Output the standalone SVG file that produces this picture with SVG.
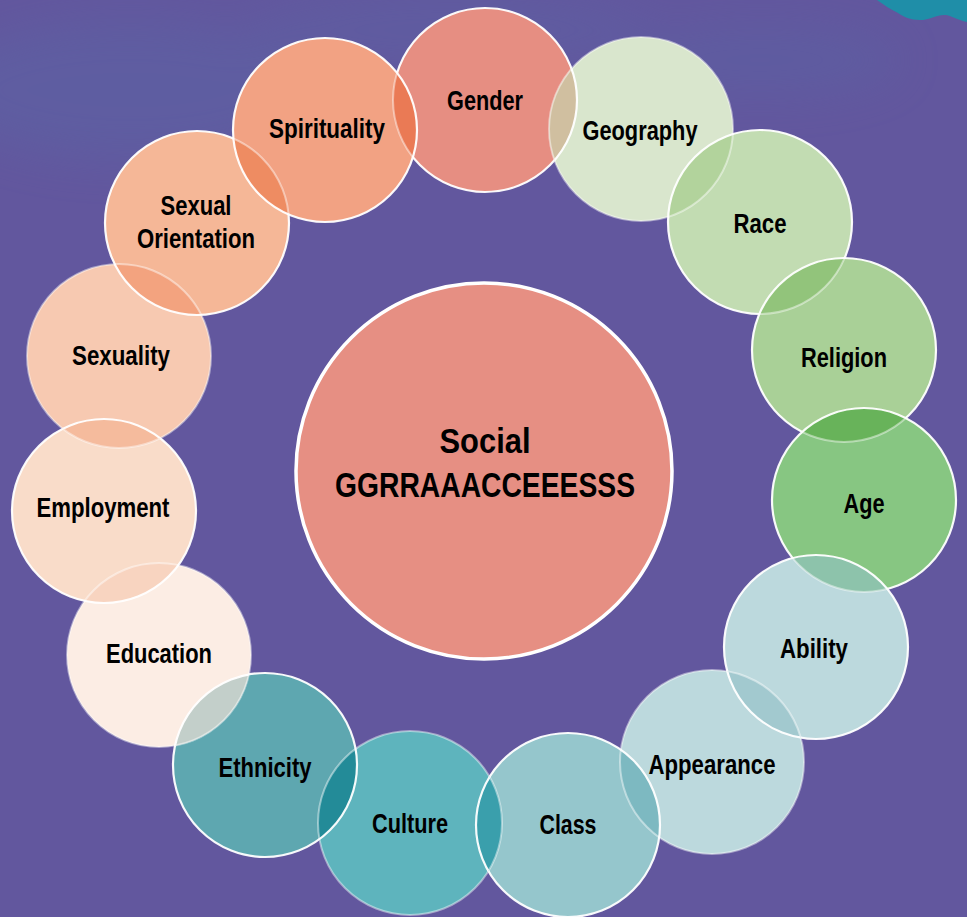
<svg xmlns="http://www.w3.org/2000/svg" width="967" height="917" viewBox="0 0 967 917">
<style>
.ring{fill:none;stroke:#ffffff;stroke-width:2.2;stroke-opacity:0.95}
.ghost{fill:none;stroke:#ffffff;stroke-width:2;stroke-opacity:0.45}
.lbl{font-family:"Liberation Sans",Arial,sans-serif;font-weight:bold;font-size:27px;fill:#000000;text-anchor:middle}
.big{font-size:35px}
</style>
<defs>
<filter id="blur" x="-50%" y="-50%" width="200%" height="200%"><feGaussianBlur stdDeviation="22"/></filter>
<clipPath id="kGender"><circle cx="485" cy="100" r="92"/></clipPath>
<clipPath id="kGeography"><circle cx="641" cy="129" r="92"/></clipPath>
<clipPath id="kRace"><circle cx="760" cy="222" r="92"/></clipPath>
<clipPath id="kReligion"><circle cx="844" cy="350" r="92"/></clipPath>
<clipPath id="kAge"><circle cx="864" cy="500" r="92"/></clipPath>
<clipPath id="kAbility"><circle cx="816" cy="647" r="92"/></clipPath>
<clipPath id="kAppearance"><circle cx="712" cy="762" r="92"/></clipPath>
<clipPath id="kClass"><circle cx="568" cy="825" r="92"/></clipPath>
<clipPath id="kCulture"><circle cx="410" cy="823" r="92"/></clipPath>
<clipPath id="kEthnicity"><circle cx="265" cy="765" r="92"/></clipPath>
<clipPath id="kEducation"><circle cx="159" cy="655" r="92"/></clipPath>
<clipPath id="kEmployment"><circle cx="104" cy="511" r="92"/></clipPath>
<clipPath id="kSexuality"><circle cx="119" cy="356" r="92"/></clipPath>
<clipPath id="kSexOr"><circle cx="197" cy="223" r="92"/></clipPath>
<clipPath id="kSpirituality"><circle cx="325" cy="130" r="92"/></clipPath>
</defs>

<g id="background">
<rect x="0" y="0" width="967" height="917" fill="#62579e"/>
<g filter="url(#blur)" opacity="0.4">
<ellipse cx="130" cy="90" rx="190" ry="70" fill="#5a66a6"/>
<ellipse cx="450" cy="30" rx="200" ry="35" fill="#5c64a4"/>
<ellipse cx="760" cy="60" rx="140" ry="35" fill="#5a64a4"/>
</g>
<path d="M877 0 L967 0 L967 22 C958 20 952 16 946 15 C938 14 930 20 920 20 C910 20 904 17 898 13 C890 9 884 5 877 0 Z" fill="#1f8ea8"/>
</g>

<g id="connectors"></g>

<g id="center">
<circle cx="484" cy="471" r="188" fill="#e68f83" stroke="#ffffff" stroke-width="3.5"/>
<text class="lbl big" x="485" y="453" textLength="91" lengthAdjust="spacingAndGlyphs">Social</text>
<text class="lbl big" x="485" y="497" textLength="300" lengthAdjust="spacingAndGlyphs">GGRRAAACCEEESSS</text>
</g>

<g id="gender">
<circle cx="485" cy="100" r="92" fill="#e68e82"/>
<circle class="ring" cx="485" cy="100" r="92"/>
<text class="lbl" x="485" y="110" textLength="76" lengthAdjust="spacingAndGlyphs">Gender</text>
</g>

<g id="geography">
<circle cx="641" cy="129" r="92" fill="#d9e6cd"/>
<circle cx="641" cy="129" r="92" fill="#d0bfa0" clip-path="url(#kGender)"/>
<circle class="ghost" cx="641" cy="129" r="92"/>
<circle class="ring" cx="485" cy="100" r="92" clip-path="url(#kGeography)"/>
<text class="lbl" x="640" y="140" textLength="115" lengthAdjust="spacingAndGlyphs">Geography</text>
</g>

<g id="race">
<circle cx="760" cy="222" r="92" fill="#c2dcb2"/>
<circle cx="760" cy="222" r="92" fill="#b2d39c" clip-path="url(#kGeography)"/>
<circle class="ghost" cx="641" cy="129" r="92" clip-path="url(#kRace)"/>
<circle class="ring" cx="760" cy="222" r="92"/>
<text class="lbl" x="760" y="233" textLength="53" lengthAdjust="spacingAndGlyphs">Race</text>
</g>

<g id="religion">
<circle cx="844" cy="350" r="92" fill="#a9d097"/>
<circle cx="844" cy="350" r="92" fill="#92c47b" clip-path="url(#kRace)"/>
<circle class="ghost" cx="760" cy="222" r="92" clip-path="url(#kReligion)"/>
<circle class="ring" cx="844" cy="350" r="92"/>
<text class="lbl" x="844" y="367" textLength="86" lengthAdjust="spacingAndGlyphs">Religion</text>
</g>

<g id="age">
<circle cx="864" cy="500" r="92" fill="#87c682"/>
<circle cx="864" cy="500" r="92" fill="#68b35a" clip-path="url(#kReligion)"/>
<circle class="ghost" cx="844" cy="350" r="92" clip-path="url(#kAge)"/>
<circle class="ring" cx="864" cy="500" r="92"/>
<text class="lbl" x="864" y="513" textLength="41" lengthAdjust="spacingAndGlyphs">Age</text>
</g>

<g id="ability">
<circle cx="816" cy="647" r="92" fill="#bcd9dd"/>
<circle cx="816" cy="647" r="92" fill="#8dc3ab" clip-path="url(#kAge)"/>
<circle class="ghost" cx="864" cy="500" r="92" clip-path="url(#kAbility)"/>
<circle class="ring" cx="816" cy="647" r="92"/>
<text class="lbl" x="814" y="658" textLength="68" lengthAdjust="spacingAndGlyphs">Ability</text>
</g>

<g id="appearance">
<circle cx="712" cy="762" r="92" fill="#bcd9dd"/>
<circle cx="712" cy="762" r="92" fill="#a2c9cf" clip-path="url(#kAbility)"/>
<circle class="ghost" cx="712" cy="762" r="92"/>
<circle class="ring" cx="816" cy="647" r="92" clip-path="url(#kAppearance)"/>
<text class="lbl" x="712" y="774" textLength="127" lengthAdjust="spacingAndGlyphs">Appearance</text>
</g>

<g id="class">
<circle cx="568" cy="825" r="92" fill="#95c6cc"/>
<circle cx="568" cy="825" r="92" fill="#7db9c1" clip-path="url(#kAppearance)"/>
<circle class="ghost" cx="712" cy="762" r="92" clip-path="url(#kClass)"/>
<circle class="ring" cx="568" cy="825" r="92"/>
<text class="lbl" x="568" y="834" textLength="57" lengthAdjust="spacingAndGlyphs">Class</text>
</g>

<g id="culture">
<circle cx="410" cy="823" r="92" fill="#5eb4bd"/>
<circle cx="410" cy="823" r="92" fill="#3a9fac" clip-path="url(#kClass)"/>
<circle class="ghost" cx="410" cy="823" r="92"/>
<circle class="ring" cx="568" cy="825" r="92" clip-path="url(#kCulture)"/>
<text class="lbl" x="410" y="833" textLength="76" lengthAdjust="spacingAndGlyphs">Culture</text>
</g>

<g id="ethnicity">
<circle cx="265" cy="765" r="92" fill="#5ea7b0"/>
<circle cx="265" cy="765" r="92" fill="#238b98" clip-path="url(#kCulture)"/>
<circle class="ghost" cx="410" cy="823" r="92" clip-path="url(#kEthnicity)"/>
<circle class="ring" cx="265" cy="765" r="92"/>
<text class="lbl" x="265" y="777" textLength="93" lengthAdjust="spacingAndGlyphs">Ethnicity</text>
</g>

<g id="education">
<circle cx="159" cy="655" r="92" fill="#fcede4"/>
<circle cx="159" cy="655" r="92" fill="#c3cfca" clip-path="url(#kEthnicity)"/>
<circle class="ghost" cx="159" cy="655" r="92"/>
<circle class="ring" cx="265" cy="765" r="92" clip-path="url(#kEducation)"/>
<text class="lbl" x="159" y="663" textLength="106" lengthAdjust="spacingAndGlyphs">Education</text>
</g>

<g id="employment">
<circle cx="104" cy="511" r="92" fill="#f9dcc9"/>
<circle cx="104" cy="511" r="92" fill="#f8d4c0" clip-path="url(#kEducation)"/>
<circle class="ghost" cx="159" cy="655" r="92" clip-path="url(#kEmployment)"/>
<circle class="ring" cx="104" cy="511" r="92"/>
<text class="lbl" x="103" y="517" textLength="133" lengthAdjust="spacingAndGlyphs">Employment</text>
</g>

<g id="sexuality">
<circle cx="119" cy="356" r="92" fill="#f7c9b1"/>
<circle cx="119" cy="356" r="92" fill="#f5bb9d" clip-path="url(#kEmployment)"/>
<circle class="ghost" cx="119" cy="356" r="92"/>
<circle class="ring" cx="104" cy="511" r="92" clip-path="url(#kSexuality)"/>
<text class="lbl" x="121" y="365" textLength="98" lengthAdjust="spacingAndGlyphs">Sexuality</text>
</g>

<g id="sexual-orientation">
<circle cx="197" cy="223" r="92" fill="#f5b797"/>
<circle cx="197" cy="223" r="92" fill="#f3a37f" clip-path="url(#kSexuality)"/>
<circle class="ghost" cx="119" cy="356" r="92" clip-path="url(#kSexOr)"/>
<circle class="ring" cx="197" cy="223" r="92"/>
<text class="lbl" x="196" y="215" textLength="71" lengthAdjust="spacingAndGlyphs">Sexual</text>
<text class="lbl" x="196" y="248" textLength="118" lengthAdjust="spacingAndGlyphs">Orientation</text>
</g>

<g id="spirituality">
<circle cx="325" cy="130" r="92" fill="#f2a283"/>
<circle cx="325" cy="130" r="92" fill="#ee8c62" clip-path="url(#kSexOr)"/>
<circle cx="325" cy="130" r="92" fill="#ea7a55" clip-path="url(#kGender)"/>
<circle class="ghost" cx="197" cy="223" r="92" clip-path="url(#kSpirituality)"/>
<circle class="ghost" cx="485" cy="100" r="92" clip-path="url(#kSpirituality)"/>
<circle class="ring" cx="325" cy="130" r="92"/>
<text class="lbl" x="327" y="138" textLength="116" lengthAdjust="spacingAndGlyphs">Spirituality</text>
</g>
</svg>
